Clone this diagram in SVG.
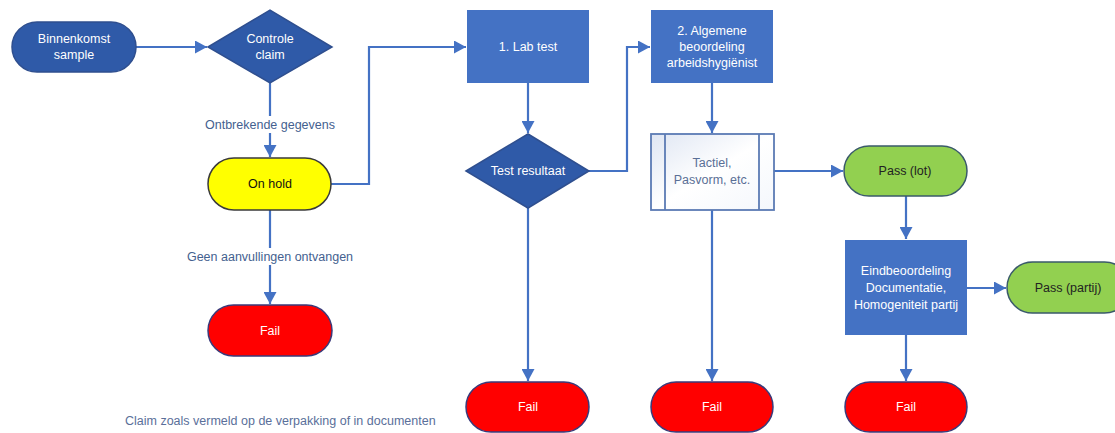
<svg xmlns="http://www.w3.org/2000/svg" width="1115" height="433" viewBox="0 0 1115 433">
<defs>
<marker id="arr" markerUnits="userSpaceOnUse" markerWidth="13" markerHeight="13" refX="12" refY="6.5" orient="auto">
<path d="M0,0 L12,6.5 L0,13 z" fill="#4472C4"/>
</marker>
<linearGradient id="tg" x1="0" y1="0" x2="1" y2="1">
<stop offset="0" stop-color="#dfe6f3"/>
<stop offset="0.5" stop-color="#ffffff"/>
<stop offset="1" stop-color="#f4f7fc"/>
</linearGradient>
<style>
.t{font-family:"Liberation Sans",Arial,sans-serif;font-size:12.5px;text-anchor:middle;dominant-baseline:central}
.w{fill:#ffffff}
.d{fill:#222222}
.lbl{fill:#44618f}
.c{fill:none;stroke:#4472C4;stroke-width:2.2}
.dkblue{fill:#2F5AA8;stroke:#2F4F8F;stroke-width:1.5}
.box{fill:#4472C4}
.fail{fill:#FF0000;stroke:#3A3A7A;stroke-width:1.5}
.pass{fill:#92D050;stroke:#3A5A6A;stroke-width:1.5}
</style>
</defs>
<rect width="1115" height="433" fill="#ffffff"/>

<g id="connectors">
<path class="c" d="M136,47 H207" marker-end="url(#arr)"/>
<path class="c" d="M270,83 V157" marker-end="url(#arr)"/>
<path class="c" d="M331,184 H369 V47 H466" marker-end="url(#arr)"/>
<path class="c" d="M270,210 V304" marker-end="url(#arr)"/>
<path class="c" d="M528,83 V133" marker-end="url(#arr)"/>
<path class="c" d="M589,171 H627 V47 H650" marker-end="url(#arr)"/>
<path class="c" d="M528,208 V381" marker-end="url(#arr)"/>
<path class="c" d="M712,83 V133" marker-end="url(#arr)"/>
<path class="c" d="M712,210 V381" marker-end="url(#arr)"/>
<path class="c" d="M774,171 H843" marker-end="url(#arr)"/>
<path class="c" d="M906,196 V239" marker-end="url(#arr)"/>
<path class="c" d="M967,288 H1006" marker-end="url(#arr)"/>
<path class="c" d="M906,335 V381" marker-end="url(#arr)"/>
<g id="label1">
<rect x="200" y="116" width="140" height="17" fill="#ffffff"/>
<text class="t lbl" x="270" y="125">Ontbrekende gegevens</text>
</g>
<g id="label2">
<rect x="182" y="248" width="176" height="17" fill="#ffffff"/>
<text class="t lbl" x="270" y="257">Geen aanvullingen ontvangen</text>
</g>
</g>

<g id="binnenkomst">
<rect class="dkblue" x="12" y="22" width="124" height="50" rx="25"/>
<text class="t w" x="74" y="39">Binnenkomst</text>
<text class="t w" x="74" y="55">sample</text>
</g>

<g id="controle">
<polygon class="dkblue" points="208,47 270,10 332,47 270,83"/>
<text class="t w" x="270" y="39">Controle</text>
<text class="t w" x="270" y="55">claim</text>
</g>

<g id="onhold">
<rect x="208" y="158" width="123" height="52" rx="26" fill="#FFFF00" stroke="#3A3A3A" stroke-width="1.5"/>
<text class="t" x="270" y="184" fill="#111111">On hold</text>
</g>

<g id="fail1">
<rect class="fail" x="208" y="305" width="124" height="51" rx="25.5"/>
<text class="t w" x="270" y="331">Fail</text>
</g>

<g id="labtest">
<rect class="box" x="467" y="10" width="122" height="73"/>
<text class="t w" x="528" y="47">1. Lab test</text>
</g>

<g id="testresultaat">
<polygon class="dkblue" points="466,171 528,134 589,171 528,208"/>
<text class="t w" x="528" y="171">Test resultaat</text>
</g>

<g id="fail2">
<rect class="fail" x="466" y="382" width="123" height="50" rx="25"/>
<text class="t w" x="528" y="407">Fail</text>
</g>

<g id="algemene">
<rect class="box" x="651" y="10" width="122" height="73"/>
<text class="t w" x="712" y="31">2. Algemene</text>
<text class="t w" x="712" y="47">beoordeling</text>
<text class="t w" x="712" y="63">arbeidshygiënist</text>
</g>

<g id="tactiel">
<rect x="651" y="134" width="123" height="76" fill="url(#tg)" stroke="#5B7BB4" stroke-width="1.8"/>
<line x1="665" y1="134" x2="665" y2="210" stroke="#5B7BB4" stroke-width="1.8"/>
<line x1="759" y1="134" x2="759" y2="210" stroke="#5B7BB4" stroke-width="1.8"/>
<text class="t" x="712" y="163" fill="#5a6f96">Tactiel,</text>
<text class="t" x="712" y="180" fill="#5a6f96">Pasvorm, etc.</text>
</g>

<g id="fail3">
<rect class="fail" x="651" y="382" width="122" height="50" rx="25"/>
<text class="t w" x="712" y="407">Fail</text>
</g>

<g id="passlot">
<rect class="pass" x="844" y="146" width="123" height="50" rx="25"/>
<text class="t d" x="905" y="171">Pass (lot)</text>
</g>

<g id="eindbeoordeling">
<rect class="box" x="845" y="240" width="122" height="95"/>
<text class="t w" x="906" y="271">Eindbeoordeling</text>
<text class="t w" x="906" y="288">Documentatie,</text>
<text class="t w" x="906" y="305">Homogeniteit partij</text>
</g>

<g id="passpartij">
<rect class="pass" x="1007" y="262" width="123" height="51" rx="25.5"/>
<text class="t d" x="1068" y="288">Pass (partij)</text>
</g>

<g id="fail4">
<rect class="fail" x="845" y="382" width="122" height="50" rx="25"/>
<text class="t w" x="906" y="407">Fail</text>
</g>

<g id="note">
<text x="125" y="421" font-family="'Liberation Sans',Arial,sans-serif" font-size="12.5" fill="#5a6f9a" dominant-baseline="central">Claim zoals vermeld op de verpakking of in documenten</text>
</g>
</svg>
